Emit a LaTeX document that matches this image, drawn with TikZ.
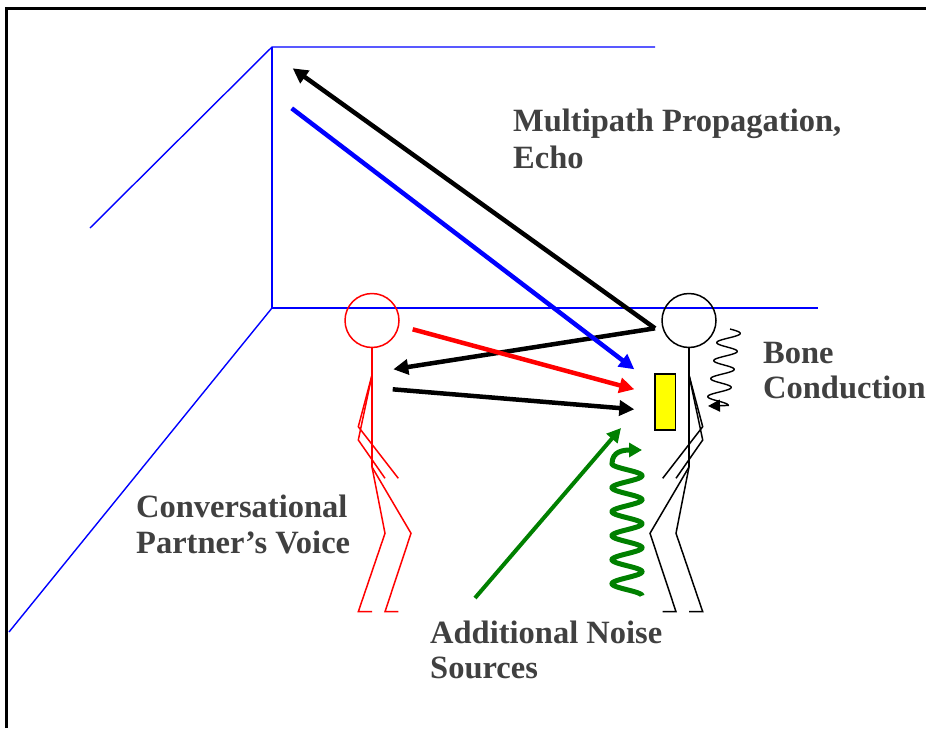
\documentclass[tikz,border=0pt]{standalone}
\usepackage{fontspec}
\setmainfont{Liberation Serif}
\usetikzlibrary{arrows.meta}
\definecolor{labelgray}{RGB}{64,64,64}
\definecolor{roomblue}{RGB}{0,0,255}
\definecolor{voicered}{RGB}{255,0,0}
\definecolor{noisegreen}{RGB}{0,128,0}
\definecolor{micyellow}{RGB}{255,255,0}
\begin{document}
\begin{tikzpicture}[x=1pt,y=-1pt,
  room/.style={draw=roomblue, line width=1.4pt},
  limb/.style={line width=1.5pt, line join=miter},
  ray/.style={line width=4.5pt, -{Triangle[length=15pt,width=15pt]}},
  lbl/.style={font=\fontsize{32.5}{36}\selectfont\bfseries, text=labelgray, inner sep=0pt, anchor=base west},
  stickman/.pic={
    \draw[limb] (0,320.5) circle[radius=27];
    \draw[limb] (0,347.5) -- (0,467);
    \draw[limb] (0,375) -- (-13.7,426.7) -- (26.3,478.3);
    \draw[limb] (0,375) -- (-13.7,440) -- (13,478.3);
    \draw[limb] (0,467) -- (13,533.3) -- (-13.7,611.7) -- (0,611.7);
    \draw[limb] (0,467) -- (39,533.3) -- (13,611.7) -- (26.3,611.7);
  }
]
\useasboundingbox (0,0) rectangle (926,728);

% frame
\draw[line width=3pt] (6,728) -- (6,8.5) -- (926,8.5);

% room: back wall, ceiling and floor edges
\coordinate (wallTop) at (272,47);
\coordinate (wallBottom) at (272,308);
\draw[room] (90,228) -- (wallTop) -- (655,47);
\draw[room] (wallTop) -- (wallBottom) -- (818,308);
\draw[room] (wallBottom) -- (9,632);

% the two people
\pic[voicered] at (372,0) {stickman};
\pic[black, xscale=-1] at (689,0) {stickman};

% microphone
\node[draw=black, fill=micyellow, line width=1.5pt, minimum width=20.7pt, minimum height=56pt, inner sep=0pt] (mic) at (665.3,402) {};

% sound paths
\coordinate (echoStart) at (655,328.3);
\coordinate (echoWall) at (292.7,68.3);
\coordinate (echoBack) at (393.3,369.3);
\coordinate (reflStart) at (291.7,108.3);
\coordinate (reflEnd) at (634.3,369.3);
\coordinate (voiceStart) at (412.7,329.3);
\coordinate (voiceEnd) at (634.3,389.3);
\coordinate (talkStart) at (392.7,389.3);
\coordinate (talkEnd) at (634.3,409.3);
\coordinate (noiseStart) at (475,598);
\coordinate (noiseEnd) at (621,428);

\draw[ray, draw=black] (echoStart) -- (echoWall);
\draw[ray, draw=black] (echoStart) -- (echoBack);
\draw[ray, draw=roomblue] (reflStart) -- (reflEnd);
\draw[ray, draw=voicered] (voiceStart) -- (voiceEnd);
\draw[ray, draw=black] (talkStart) -- (talkEnd);
\draw[line width=4pt, noisegreen, -{Triangle[length=14pt,width=14pt]}] (noiseStart) -- (noiseEnd);

% noise coil
\draw[line width=5pt, noisegreen, -{Triangle[length=13pt,width=14pt]}]
  plot[domain=0:5.5, samples=220, smooth] ({627+15*cos(360*\x)}, {595.7-24*\x})
  .. controls (612,451) and (624,450) .. (642,450);

% bone conduction coil
\draw[line width=1.4pt, black, -{Triangle[length=12pt,width=12pt]}]
  plot[domain=0:4.25, samples=200, smooth] ({730-3*\x+11*sin(360*\x)}, {329+18*\x})
  -- (708,406);

% labels
\node[lbl] (mp1) at (513,131) {Multipath Propagation,};
\node[lbl] (mp2) at (513,168) {Echo};
\node[lbl] (bc1) at (763,363) {Bone};
\node[lbl] (bc2) at (763,398) {Conduction};
\node[lbl] (cp1) at (136,517) {Conversational};
\node[lbl] (cp2) at (136,553) {Partner’s Voice};
\node[lbl] (ns1) at (430,643) {Additional Noise};
\node[lbl] (ns2) at (430,678) {Sources};
\end{tikzpicture}
\end{document}
